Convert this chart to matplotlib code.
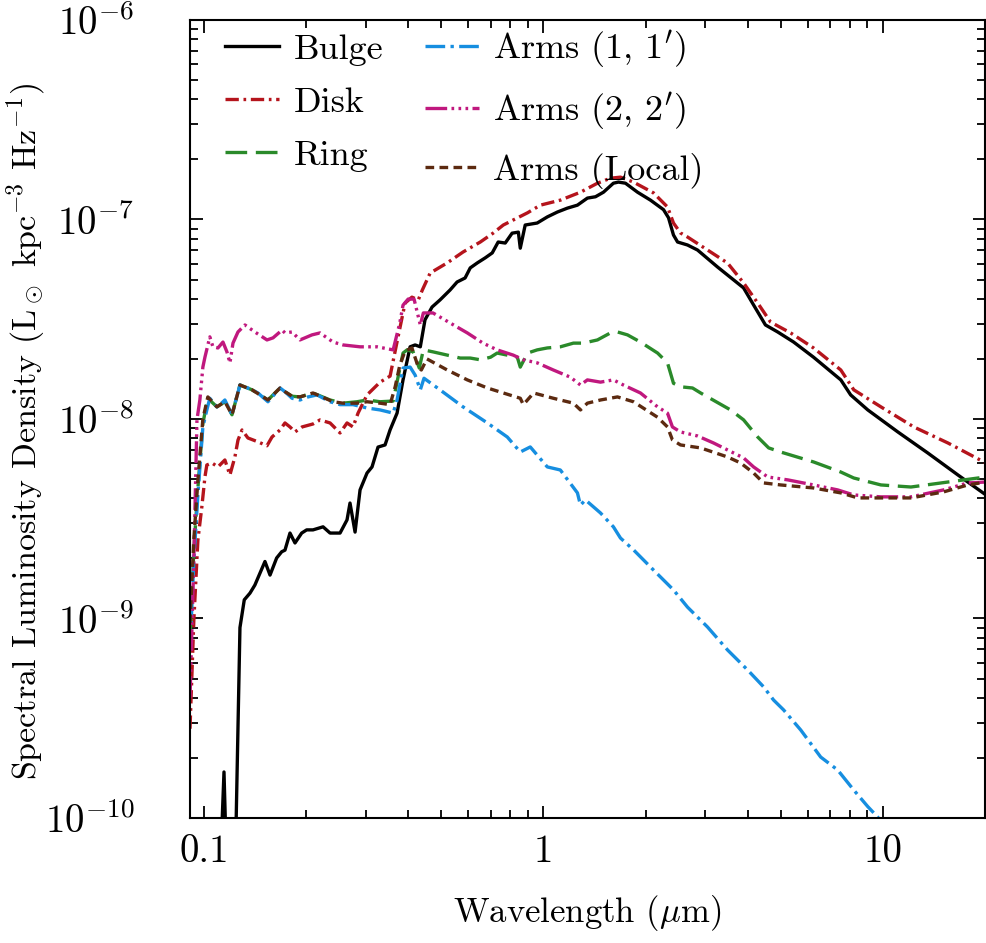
import numpy as np
import matplotlib
matplotlib.use("Agg")
import matplotlib.pyplot as plt
from matplotlib.ticker import (LogLocator, NullFormatter, FixedLocator, FixedFormatter,
                               LogFormatterSciNotation)

plt.rcParams['font.family'] = 'serif'
plt.rcParams['font.serif'] = ['cmr10']
plt.rcParams['mathtext.fontset'] = 'cm'
plt.rcParams['axes.formatter.use_mathtext'] = True
plt.rcParams['font.size'] = 24

# wavelength (micron) and spectral luminosity density for each component
wl_bulge = [0.1115, 0.1146, 0.1169, 0.1235, 0.1277, 0.1315, 0.1367, 0.1413, 0.1513, 0.1566,
            0.1638, 0.1695, 0.1733, 0.1793, 0.1855, 0.1941, 0.2008, 0.2096, 0.2244, 0.2353,
            0.2518, 0.264, 0.2694, 0.2788, 0.2884, 0.3024, 0.3128, 0.3258, 0.3417, 0.3535,
            0.3707, 0.386, 0.405, 0.419, 0.434, 0.448, 0.470, 0.496, 0.531, 0.557,
            0.588, 0.609, 0.639, 0.674, 0.707, 0.736, 0.772, 0.809, 0.844, 0.855,
            0.884, 0.959, 1.027, 1.100, 1.177, 1.260, 1.348, 1.424, 1.503, 1.608,
            1.664, 1.745, 1.894, 2.068, 2.259, 2.337, 2.417, 2.485, 2.658, 2.845,
            3.258, 3.888, 4.161, 4.51, 4.90, 5.46, 6.25, 7.52, 8.04, 9.03,
            11.07, 13.57, 16.64, 20.13]
lum_bulge = [5e-11, 1.7e-10, 5e-11, 5e-11, 9.0e-10, 1.24e-9, 1.34e-9, 1.47e-9, 1.93e-9, 1.65e-9,
             2.01e-9, 2.16e-9, 2.20e-9, 2.68e-9, 2.39e-9, 2.68e-9, 2.78e-9, 2.78e-9, 2.88e-9, 2.68e-9,
             2.68e-9, 3.12e-9, 3.79e-9, 2.71e-9, 4.41e-9, 5.36e-9, 5.75e-9, 7.23e-9, 7.41e-9, 8.81e-9,
             1.07e-8, 1.57e-8, 2.30e-8, 2.35e-8, 2.30e-8, 3.14e-8, 3.64e-8, 3.95e-8, 4.43e-8, 4.86e-8,
             5.09e-8, 5.72e-8, 6.06e-8, 6.42e-8, 6.80e-8, 7.71e-8, 7.62e-8, 8.54e-8, 8.64e-8, 7.18e-8,
             9.38e-8, 9.60e-8, 1.03e-7, 1.09e-7, 1.14e-7, 1.18e-7, 1.28e-7, 1.30e-7, 1.37e-7, 1.52e-7,
             1.54e-7, 1.52e-7, 1.37e-7, 1.25e-7, 1.12e-7, 1.02e-7, 8.36e-8, 7.71e-8, 7.45e-8, 7.03e-8,
             5.78e-8, 4.54e-8, 3.73e-8, 2.96e-8, 2.73e-8, 2.43e-8, 2.04e-8, 1.57e-8, 1.32e-8, 1.11e-8,
             8.61e-9, 6.75e-9, 5.24e-9, 4.16e-9]

wl_disk = [0.091, 0.0934, 0.096, 0.0986, 0.1007, 0.102, 0.1056, 0.110, 0.1153, 0.1193,
           0.1234, 0.126, 0.1295, 0.1348, 0.1443, 0.1534, 0.1587, 0.1676, 0.1733, 0.1793,
           0.1855, 0.1946, 0.2096, 0.2198, 0.2353, 0.2518, 0.264, 0.275, 0.2845, 0.3024,
           0.3304, 0.3535, 0.3732, 0.3914, 0.410, 0.428, 0.440, 0.464, 0.521, 0.580,
           0.652, 0.711, 0.762, 0.815, 0.898, 0.980, 1.122, 1.286, 1.443, 1.576,
           1.687, 1.842, 2.110, 2.321, 2.417, 2.535, 2.658, 3.045, 3.488, 3.888,
           4.28, 4.67, 5.35, 6.25, 7.52, 8.21, 9.87, 12.34, 15.55, 20.1]
lum_disk = [2.8e-10, 9.8e-10, 2.47e-9, 3.62e-9, 5.12e-9, 5.88e-9, 6.02e-9, 5.75e-9, 6.23e-9, 5.24e-9,
            6.45e-9, 7.83e-9, 8.81e-9, 8.03e-9, 7.68e-9, 7.34e-9, 8.12e-9, 8.81e-9, 9.55e-9, 9.12e-9,
            8.61e-9, 9.12e-9, 9.44e-9, 9.89e-9, 9.55e-9, 8.51e-9, 9.55e-9, 9.12e-9, 1.07e-8, 1.32e-8,
            1.53e-8, 1.64e-8, 2.58e-8, 3.81e-8, 4.08e-8, 3.95e-8, 4.43e-8, 5.39e-8, 6.06e-8, 6.87e-8,
            7.71e-8, 8.54e-8, 9.38e-8, 9.94e-8, 1.08e-7, 1.18e-7, 1.25e-7, 1.37e-7, 1.52e-7, 1.61e-7,
            1.63e-7, 1.54e-7, 1.36e-7, 1.155e-7, 9.6e-8, 8.56e-8, 8.17e-8, 7.03e-8, 6.05e-8, 4.81e-8,
            3.81e-8, 3.06e-8, 2.70e-8, 2.27e-8, 1.76e-8, 1.40e-8, 1.15e-8, 9.12e-9, 7.58e-9, 6.02e-9]

wl_ring = [0.091, 0.0934, 0.096, 0.0993, 0.1027, 0.1092, 0.1153, 0.121, 0.1277, 0.1386,
           0.1544, 0.1676, 0.1733, 0.1818, 0.1919, 0.2096, 0.2353, 0.257, 0.2826, 0.3024,
           0.3304, 0.361, 0.3732, 0.386, 0.3968, 0.4134, 0.431, 0.443, 0.473, 0.521,
           0.569, 0.609, 0.652, 0.699, 0.731, 0.783, 0.838, 0.855, 0.898, 0.959,
           1.027, 1.122, 1.226, 1.312, 1.443, 1.576, 1.653, 1.769, 1.932, 2.17,
           2.321, 2.417, 2.535, 2.75, 2.906, 3.56, 3.888, 4.28, 4.61, 5.0,
           6.25, 7.52, 8.21, 9.87, 12.1, 15.55, 20.1]
lum_ring = [8e-10, 2.2e-9, 4.5e-9, 9.5e-9, 1.27e-8, 1.15e-8, 1.22e-8, 1.05e-8, 1.48e-8, 1.40e-8,
            1.245e-8, 1.43e-8, 1.37e-8, 1.30e-8, 1.29e-8, 1.35e-8, 1.245e-8, 1.20e-8, 1.22e-8, 1.245e-8,
            1.22e-8, 1.23e-8, 1.62e-8, 2.14e-8, 2.22e-8, 2.17e-8, 1.80e-8, 2.22e-8, 2.17e-8, 2.09e-8,
            2.02e-8, 2.02e-8, 1.98e-8, 2.04e-8, 2.14e-8, 2.09e-8, 2.04e-8, 1.82e-8, 2.14e-8, 2.22e-8,
            2.27e-8, 2.30e-8, 2.40e-8, 2.40e-8, 2.49e-8, 2.70e-8, 2.73e-8, 2.64e-8, 2.43e-8, 2.14e-8,
            1.91e-8, 1.51e-8, 1.45e-8, 1.43e-8, 1.35e-8, 1.11e-8, 9.9e-9, 8.12e-9, 7.16e-9, 6.83e-9,
            6.09e-9, 5.42e-9, 5.06e-9, 4.67e-9, 4.56e-9, 4.83e-9, 5.12e-9]

wl_arms1 = [0.091, 0.0934, 0.096, 0.0993, 0.102, 0.1041, 0.1092, 0.1115, 0.1153, 0.121,
            0.1277, 0.1321, 0.1386, 0.1443, 0.1544, 0.1676, 0.1733, 0.1818, 0.1919, 0.2027,
            0.2154, 0.2353, 0.2518, 0.275, 0.3024, 0.3304, 0.361, 0.3707, 0.386, 0.405,
            0.419, 0.434, 0.445, 0.496, 0.580, 0.684, 0.783, 0.855, 0.915, 1.027,
            1.122, 1.260, 1.286, 1.330, 1.473, 1.608, 1.687, 1.842, 2.110, 2.417,
            2.658, 3.045, 3.488, 3.996, 4.454, 4.766, 5.101, 5.73, 6.56, 7.36,
            8.21, 9.03, 9.66, 11.3]
lum_arms1 = [7.0e-10, 1.96e-9, 4.16e-9, 9.12e-9, 1.11e-8, 1.27e-8, 1.15e-8, 1.18e-8, 1.245e-8, 1.05e-8,
             1.48e-8, 1.45e-8, 1.40e-8, 1.35e-8, 1.22e-8, 1.43e-8, 1.37e-8, 1.27e-8, 1.245e-8, 1.29e-8,
             1.32e-8, 1.22e-8, 1.18e-8, 1.18e-8, 1.135e-8, 1.11e-8, 1.07e-8, 1.245e-8, 1.80e-8, 1.82e-8,
             1.66e-8, 1.40e-8, 1.60e-8, 1.40e-8, 1.15e-8, 9.55e-9, 8.12e-9, 6.83e-9, 7.24e-9, 5.75e-9,
             5.55e-9, 4.26e-9, 3.70e-9, 3.93e-9, 3.38e-9, 2.88e-9, 2.53e-9, 2.21e-9, 1.75e-9, 1.39e-9,
             1.14e-9, 9.06e-10, 6.95e-10, 5.52e-10, 4.54e-10, 3.90e-10, 3.48e-10, 2.76e-10, 2.02e-10, 1.74e-10,
             1.38e-10, 1.14e-10, 1.01e-10, 6.9e-11]

wl_arms2 = [0.091, 0.0934, 0.0954, 0.0973, 0.0993, 0.1007, 0.1041, 0.1063, 0.110, 0.1138,
            0.1169, 0.1193, 0.1218, 0.126, 0.1321, 0.1413, 0.1534, 0.1598, 0.1699, 0.1733,
            0.1818, 0.1919, 0.2082, 0.2198, 0.2401, 0.257, 0.2884, 0.3237, 0.361, 0.3776,
            0.386, 0.3996, 0.416, 0.434, 0.443, 0.473, 0.531, 0.597, 0.664, 0.731,
            0.815, 0.873, 0.960, 1.070, 1.201, 1.286, 1.348, 1.473, 1.608, 1.721,
            1.932, 2.17, 2.321, 2.40, 2.535, 2.845, 3.172, 3.888, 4.161, 4.58,
            5.25, 6.25, 7.36, 8.21, 9.87, 12.1, 15.1, 17.8, 20.1]
lum_arms2 = [4e-10, 1.96e-9, 9.9e-9, 1.245e-8, 1.82e-8, 2.04e-8, 2.58e-8, 2.30e-8, 2.27e-8, 2.43e-8,
             2.17e-8, 1.91e-8, 2.40e-8, 2.73e-8, 2.96e-8, 2.73e-8, 2.49e-8, 2.55e-8, 2.79e-8, 2.70e-8,
             2.73e-8, 2.49e-8, 2.64e-8, 2.70e-8, 2.43e-8, 2.35e-8, 2.30e-8, 2.30e-8, 2.22e-8, 3.03e-8,
             3.72e-8, 3.99e-8, 3.99e-8, 2.96e-8, 3.40e-8, 3.40e-8, 3.03e-8, 2.70e-8, 2.40e-8, 2.22e-8,
             2.09e-8, 1.98e-8, 1.91e-8, 1.76e-8, 1.62e-8, 1.48e-8, 1.57e-8, 1.53e-8, 1.57e-8, 1.48e-8,
             1.35e-8, 1.15e-8, 1.07e-8, 9.12e-9, 8.61e-9, 8.22e-9, 7.58e-9, 6.38e-9, 5.75e-9, 5.12e-9,
             4.95e-9, 4.67e-9, 4.41e-9, 4.16e-9, 4.07e-9, 4.07e-9, 4.41e-9, 4.78e-9, 4.83e-9]

wl_local = [0.091, 0.0934, 0.096, 0.0993, 0.1027, 0.1092, 0.1153, 0.121, 0.1277, 0.1386,
            0.1544, 0.1676, 0.1733, 0.1818, 0.1919, 0.2096, 0.2401, 0.257, 0.2826, 0.3024,
            0.3304, 0.3535, 0.366, 0.3776, 0.3914, 0.410, 0.428, 0.437, 0.454, 0.521,
            0.597, 0.684, 0.762, 0.855, 0.873, 0.936, 1.070, 1.226, 1.286, 1.348,
            1.473, 1.653, 1.842, 2.17, 2.321, 2.40, 2.535, 2.906, 3.488, 3.81,
            4.161, 4.454, 5.0, 6.25, 7.52, 8.44, 9.87, 12.1, 15.1, 17.8, 20.1]
lum_local = [9.5e-10, 2.5e-9, 4.9e-9, 1.0e-8, 1.29e-8, 1.15e-8, 1.22e-8, 1.05e-8, 1.48e-8, 1.40e-8,
             1.245e-8, 1.43e-8, 1.37e-8, 1.30e-8, 1.29e-8, 1.35e-8, 1.22e-8, 1.20e-8, 1.20e-8, 1.22e-8,
             1.20e-8, 1.18e-8, 1.45e-8, 1.86e-8, 2.19e-8, 2.27e-8, 1.82e-8, 1.76e-8, 2.0e-8, 1.76e-8,
             1.57e-8, 1.43e-8, 1.35e-8, 1.27e-8, 1.18e-8, 1.35e-8, 1.27e-8, 1.20e-8, 1.11e-8, 1.20e-8,
             1.245e-8, 1.29e-8, 1.22e-8, 1.02e-8, 9.12e-9, 7.85e-9, 7.41e-9, 7.16e-9, 6.45e-9, 6.02e-9,
             5.36e-9, 4.78e-9, 4.67e-9, 4.51e-9, 4.26e-9, 4.02e-9, 4.02e-9, 4.02e-9, 4.31e-9, 4.67e-9, 4.83e-9]

x_ticks = [0.1, 1, 10]
x_ticklabels = ["0.1", "1", "10"]
y_ticks = [1e-10, 1e-9, 1e-8, 1e-7, 1e-6]

# (x, y, label, colour, dash pattern)
series = [
    (wl_bulge, lum_bulge, "Bulge", "black", None),
    (wl_disk, lum_disk, "Disk", "#b5141c", (4.0, 1.4, 0.8, 1.4)),
    (wl_ring, lum_ring, "Ring", "#2a8a2a", (6.5, 2.6)),
    (wl_arms1, lum_arms1, r"Arms (1, 1$^{\prime}$)", "#168ee0", (5.9, 1.6, 1.0, 1.6)),
    (wl_arms2, lum_arms2, r"Arms (2, 2$^{\prime}$)", "#c0187e", (6.5, 1.3, 0.8, 1.3, 0.8, 1.3, 0.8, 1.3)),
    (wl_local, lum_local, "Arms (Local)", "#5c2a10", (2.6, 1.6)),
]

fig = plt.figure(figsize=(9.87, 9.43), dpi=100)
ax = fig.add_axes([0.1925, 0.1326, 0.8055, 0.8462])

for x, y, lab, col, dash in series:
    line, = ax.plot(x, y, color=col, lw=2.4, label=lab)
    if dash is not None:
        line.set_dashes(dash)

ax.set_xscale('log')
ax.set_yscale('log')
ax.set_xlim(0.091, 20.0)
ax.set_ylim(1e-10, 1e-6)

ax.xaxis.set_major_locator(FixedLocator(x_ticks))
ax.xaxis.set_major_formatter(FixedFormatter(x_ticklabels))
ax.xaxis.set_minor_locator(LogLocator(base=10, subs=np.arange(2, 10), numticks=20))
ax.xaxis.set_minor_formatter(NullFormatter())
ax.yaxis.set_major_locator(FixedLocator(y_ticks))
ax.yaxis.set_major_formatter(LogFormatterSciNotation())
ax.yaxis.set_minor_locator(LogLocator(base=10, subs=np.arange(2, 10), numticks=20))
ax.yaxis.set_minor_formatter(NullFormatter())

ax.tick_params(which='both', direction='in', top=True, right=True, width=1.3)
ax.tick_params(which='major', length=9)
ax.tick_params(which='minor', length=6)
ax.tick_params(axis='x', pad=12, labelsize=28)
ax.tick_params(axis='y', pad=40, labelsize=28)
for sp in ax.spines.values():
    sp.set_linewidth(1.5)

ax.set_xlabel(r"Wavelength ($\mu$m)", labelpad=16, fontsize=25)
ax.set_ylabel(r"Spectral Luminosity Density (L$_\odot$ kpc$^{-3}$ Hz$^{-1}$)", fontsize=24.5)
# the label sits left of the tick labels, between 10^-6 and 10^-10
ax.yaxis.set_label_coords(-0.18, 0.484)

ax.legend(loc='upper left', bbox_to_anchor=(0.026, 1.008), borderaxespad=0,
          ncol=2, frameon=False, handlelength=1.5, handletextpad=0.4,
          columnspacing=1.15, labelspacing=0.58, fontsize=26)

fig.savefig("out.png", dpi=100)
